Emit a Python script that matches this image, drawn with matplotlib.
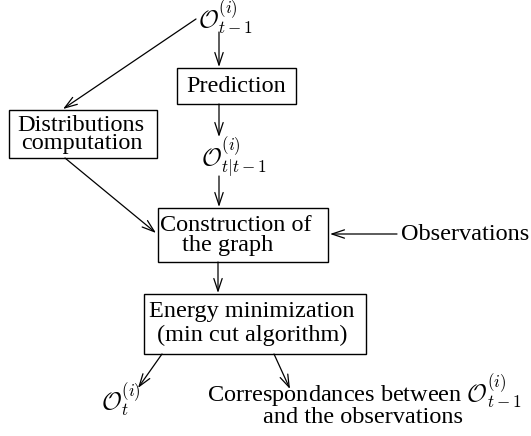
import matplotlib
matplotlib.use("Agg")
import matplotlib.pyplot as plt
from matplotlib.patches import Rectangle

plt.rcParams['font.family'] = ['Liberation Serif', 'DejaVu Serif']
plt.rcParams['mathtext.fontset'] = 'cm'

# Node labels
box_labels = ["Prediction",
              "Distributions\ncomputation",
              "Construction of\nthe graph",
              "Energy minimization\n(min cut algorithm)"]
free_labels = [r"$\mathcal{O}_{t-1}^{(i)}$",
               r"$\mathcal{O}_{t|t-1}^{(i)}$",
               "Observations",
               r"$\mathcal{O}_{t}^{(i)}$",
               "Correspondances between $\\mathcal{O}_{t-1}^{(i)}$\nand the observations"]

# Layout (pixel coordinates)
box_rects = [(177, 68, 296, 104),
             (9, 110, 157, 158),
             (158, 208, 328, 262),
             (144, 294, 366, 354)]
box_line_pos = [[(236, 86)],
                [(81, 125), (82, 143)],
                [(236, 225), (228, 245)],
                [(252, 311), (252, 335)]]
free_pos = [(226, 18), (234, 157), (465, 234), (121, 400), None]
corr_baselines = [(364, 402), (363, 423)]
arrows = [((219, 32), (219, 67)),
          ((196, 19), (63, 109)),
          ((219, 104), (219, 137)),
          ((219, 176), (219, 207)),
          ((65, 158), (156, 233)),
          ((397, 234), (330, 234)),
          ((218, 262), (218, 293)),
          ((162, 354), (138, 388)),
          ((274, 354), (290, 389))]

W, H = 531, 436
fig = plt.figure(figsize=(W / 100, H / 100), dpi=100)
ax = fig.add_axes([0, 0, 1, 1])
ax.set_xlim(0, W)
ax.set_ylim(H, 0)
ax.axis('off')

fs = 17.5
for (x0, y0, x1, y1), label, lpos in zip(box_rects, box_labels, box_line_pos):
    ax.add_patch(Rectangle((x0, y0), x1 - x0, y1 - y0, fill=False,
                           edgecolor='black', linewidth=1.0))
    for line, (x, y) in zip(label.split("\n"), lpos):
        ax.text(x, y, line, ha='center', va='center', fontsize=fs)

for label, pos in zip(free_labels, free_pos):
    if "\n" in label:
        for line, (x, y) in zip(label.split("\n"), corr_baselines):
            ax.text(x, y, line, ha='center', va='baseline', fontsize=fs)
    else:
        ax.text(pos[0], pos[1], label, ha='center', va='center', fontsize=fs)

for start, end in arrows:
    ax.annotate("", xy=end, xytext=start,
                arrowprops=dict(arrowstyle="->,head_length=0.9,head_width=0.3",
                                color='black', lw=0.9,
                                shrinkA=0, shrinkB=0))

fig.savefig("out.png", dpi=100)
